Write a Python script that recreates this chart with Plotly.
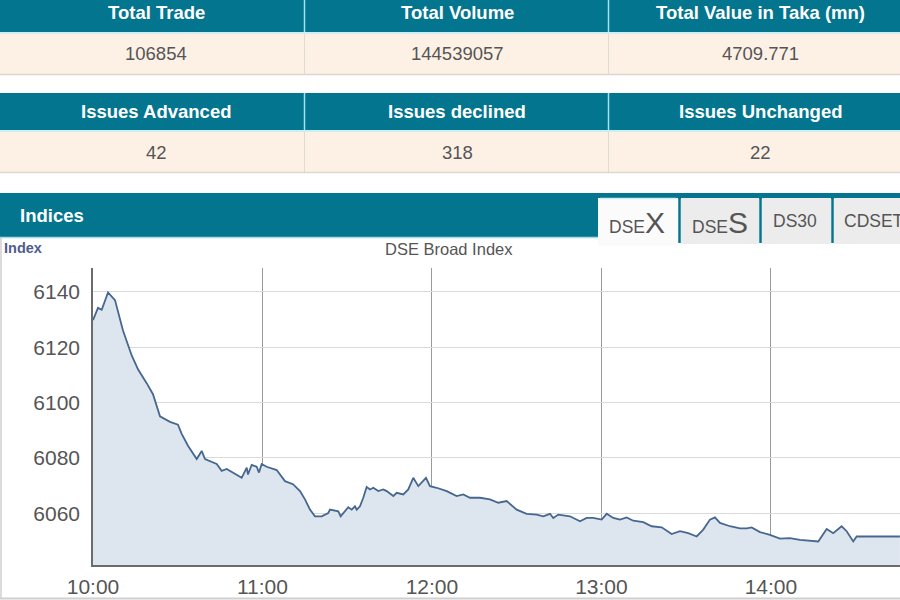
import plotly.graph_objects as go

# ---------------- data ----------------
times = [
    "10:00:00", "10:01:46", "10:03:05", "10:05:19", "10:07:47", "10:10:37", "10:13:42", "10:15:56",
    "10:19:00", "10:21:14", "10:23:43", "10:27:16", "10:30:05", "10:31:24", "10:33:38", "10:36:43",
    "10:38:29", "10:39:39", "10:43:47", "10:45:34", "10:47:20", "10:52:38", "10:54:25", "10:54:52",
    "10:56:11", "10:57:57", "10:58:46", "10:59:43", "11:01:29", "11:05:02", "11:07:58", "11:10:48",
    "11:13:17", "11:15:03", "11:16:49", "11:18:35", "11:20:58", "11:23:18", "11:23:54", "11:26:50",
    "11:27:41", "11:30:23", "11:31:35", "11:32:45", "11:33:21", "11:34:31", "11:35:41", "11:36:53",
    "11:38:04", "11:39:14", "11:41:00", "11:42:46", "11:43:58", "11:46:19", "11:47:31", "11:49:51",
    "11:51:37", "11:53:23", "11:55:10", "11:56:22", "11:57:53", "11:59:18", "12:01:40", "12:05:13",
    "12:08:45", "12:11:05", "12:13:28", "12:17:00", "12:20:32", "12:23:29", "12:26:27", "12:29:59",
    "12:33:32", "12:37:04", "12:39:25", "12:41:47", "12:42:57", "12:44:43", "12:48:52", "12:52:24",
    "12:54:46", "12:57:06", "13:00:05", "13:01:51", "13:04:11", "13:06:34", "13:08:56", "13:11:16",
    "13:14:49", "13:17:47", "13:21:19", "13:24:52", "13:27:48", "13:30:44", "13:33:43", "13:36:03",
    "13:38:25", "13:40:11", "13:41:58", "13:45:30", "13:49:02", "13:51:25", "13:53:11", "13:56:07",
    "13:59:40", "14:03:12", "14:06:44", "14:10:17", "14:13:49", "14:16:46", "14:19:44", "14:22:04",
    "14:25:02", "14:26:49", "14:29:09", "14:30:21", "14:45:40",
]
dsex = [
    6129.8, 6134.2, 6133.5, 6139.8, 6137.0, 6126.0, 6117.0, 6112.0,
    6107.0, 6103.0, 6095.0, 6093.0, 6092.0, 6088.7, 6084.4, 6079.6,
    6082.5, 6079.6, 6077.8, 6075.3, 6076.0, 6072.8, 6076.5, 6074.0,
    6077.5, 6076.8, 6074.7, 6077.8, 6076.8, 6075.6, 6071.6, 6070.5,
    6068.0, 6065.0, 6061.3, 6058.9, 6058.9, 6060.1, 6061.3, 6060.7,
    6058.9, 6062.2, 6061.3, 6062.5, 6061.3, 6062.5, 6065.6, 6069.5,
    6068.6, 6069.2, 6068.0, 6068.6, 6068.0, 6066.2, 6067.4, 6066.8,
    6068.6, 6072.8, 6069.8, 6071.0, 6072.8, 6069.8, 6069.2, 6068.0,
    6066.2, 6066.8, 6065.6, 6065.6, 6065.0, 6063.8, 6064.4, 6061.3,
    6059.8, 6059.5, 6058.9, 6059.8, 6058.3, 6059.5, 6058.9, 6057.1,
    6058.3, 6058.3, 6057.7, 6059.8, 6058.3, 6057.7, 6058.5, 6057.3,
    6056.8, 6055.3, 6054.9, 6052.5, 6053.5, 6052.8, 6051.6, 6054.1,
    6057.7, 6058.5, 6056.5, 6055.3, 6054.5, 6054.5, 6054.9, 6053.2,
    6052.2, 6050.8, 6051.0, 6050.4, 6050.0, 6049.8, 6054.3, 6052.8,
    6055.3, 6053.5, 6049.8, 6051.6, 6051.6,
]
y_ticks = [6060, 6080, 6100, 6120, 6140]
x_ticks = ["10:00", "11:00", "12:00", "13:00", "14:00"]

headers_1 = ["Total Trade", "Total Volume", "Total Value in Taka (mn)"]
values_1 = ["106854", "144539057", "4709.771"]
headers_2 = ["Issues Advanced", "Issues declined", "Issues Unchanged"]
values_2 = ["42", "318", "22"]
tab_labels = [("DSE", "X"), ("DSE", "S"), ("DS30", ""), ("CDSET", "")]

chart_title = "DSE Broad Index"
axis_label = "Index"
section_title = "Indices"

DAY = "2019-01-01 "

# ---------------- geometry helpers ----------------
L, R, T, B = 93, 900, 268, 565
W_PLOT, H_PLOT = R - L, B - T


def px(x):
    return (x - L) / W_PLOT


def py(y):
    return (B - y) / H_PLOT


TEAL = "#03758e"
BEIGE = "#fdf1e6"
TXT = "#555555"

shapes = []
annots = []


def rect(x0, y0, x1, y1, fill, line=None, lw=0):
    shapes.append(dict(type="rect", xref="paper", yref="paper",
                       x0=px(x0), x1=px(x1), y0=py(y1), y1=py(y0),
                       fillcolor=fill, line=dict(color=line or fill, width=lw),
                       layer="below"))


def hline(x0, x1, y, color, w=1):
    shapes.append(dict(type="line", xref="paper", yref="paper",
                       x0=px(x0), x1=px(x1), y0=py(y), y1=py(y),
                       line=dict(color=color, width=w), layer="below"))


def vline(x, y0, y1, color, w=1):
    shapes.append(dict(type="line", xref="paper", yref="paper",
                       x0=px(x), x1=px(x), y0=py(y0), y1=py(y1),
                       line=dict(color=color, width=w), layer="below"))


def text(x, y, s, size, color, bold=False, xanchor="center", family="Liberation Sans, Arial"):
    annots.append(dict(xref="paper", yref="paper", x=px(x), y=py(y), text=("<b>%s</b>" % s) if bold else s,
                       showarrow=False, xanchor=xanchor, yanchor="middle",
                       font=dict(size=size, color=color, family=family)))


# ---------------- stats tables ----------------
col_bounds = [(0, 304), (305, 608), (609, 900)]
col_centers = [156, 457, 760]
for (hy0, hy1, dy0, dy1, heads, vals) in [(-5, 32, 34, 74, headers_1, values_1),
                                           (93, 130, 132, 172, headers_2, values_2)]:
    for i, (cx0, cx1) in enumerate(col_bounds):
        rect(cx0, hy0, cx1, hy1, TEAL)
        rect(cx0, dy0, cx1, dy1, BEIGE)
        text(col_centers[i], 12 if hy0 < 0 else (hy0 + hy1) / 2, heads[i], 18.5, "white", bold=True)
        text(col_centers[i], (dy0 + dy1) / 2, vals[i], 18.5, TXT)
    hline(0, 900, hy1 + 1, "#bfe9ef", 1.5)
    hline(0, 900, dy1 + 0.5, "#dcd6cf", 1.5)
    for cx in (304.5, 608.5):
        vline(cx, hy0, hy1, "#9fe3ee", 1.5)
        vline(cx, dy0, dy1, "#e0dad3", 1)

# ---------------- indices header & tabs ----------------
rect(0, 193, 900, 199, TEAL)
rect(0, 193, 598, 237, TEAL)
hline(0, 598, 237.5, "#a9d9e2", 1.5)
text(18, 215, section_title, 18.5, "white", bold=True, xanchor="left")

tab_bounds = [(598, 678), (681, 759), (762, 831), (834, 905)]
for i, (tx0, tx1) in enumerate(tab_bounds):
    fill = "#fbfbfb" if i == 0 else "#ececec"
    rect(tx0, 198, tx1, 246 if i == 0 else 244, fill)
    if i == 0:
        hline(tx0 + 2, tx1 - 2, 198.5, "#c9eef3", 1.5)
for sx in (679.5, 760.5, 832.5):
    vline(sx, 193, 243, TEAL, 2.5)

tab_text_x = [607, 690, 771, 842]
for i, (small, big) in enumerate(tab_labels):
    s = small
    if big:
        s = small + '<span style="font-size:30px">' + big + '</span>'
    text(tab_text_x[i], 222 if big else 221, s, 17.5, TXT, xanchor="left")

# chart container frame
vline(1, 238, 598, "#cfcfcf", 1.5)
hline(0, 900, 598.5, "#cfcfcf", 2)

text(2, 248.5, axis_label, 14.5, "#4e5d8d", bold=True, xanchor="left")
text(448.5, 249, chart_title, 16.5, TXT)

# ---------------- chart ----------------
fig = go.Figure()
fig.add_trace(go.Scatter(
    x=[DAY + t for t in times], y=dsex, mode="lines",
    line=dict(color="#47678f", width=1.8),
    fill="tozeroy", fillcolor="#dde5ef",
    hoverinfo="skip",
))

fig.update_layout(
    width=900, height=600,
    margin=dict(l=L, r=900 - R, t=T, b=600 - B),
    paper_bgcolor="white", plot_bgcolor="white",
    showlegend=False,
    shapes=shapes, annotations=annots,
    font=dict(family="Liberation Sans, Arial", color=TXT),
    xaxis=dict(
        type="date",
        range=[DAY + "10:00:00", DAY + "14:45:42"],
        tickvals=[DAY + t for t in x_ticks],
        ticktext=x_ticks,
        showgrid=True, gridcolor="#9a9a9a", gridwidth=1,
        showline=True, linecolor="#6b6b6b", linewidth=1.5,
        ticks="", tickfont=dict(size=21, color=TXT),
        ticklabelstandoff=2,
        zeroline=False, fixedrange=True,
    ),
    yaxis=dict(
        range=[6041.3, 6148.6],
        tickvals=y_ticks,
        showgrid=True, gridcolor="#dadada", gridwidth=1,
        showline=True, linecolor="#6b6b6b", linewidth=1.5,
        ticks="", tickfont=dict(size=21, color=TXT),
        ticklabelstandoff=7,
        zeroline=False, fixedrange=True,
    ),
)

fig.write_html(
    "out.html",
    config={"displayModeBar": False},
    post_script="document.body.style.margin='0px';document.body.style.overflow='hidden';",
)
